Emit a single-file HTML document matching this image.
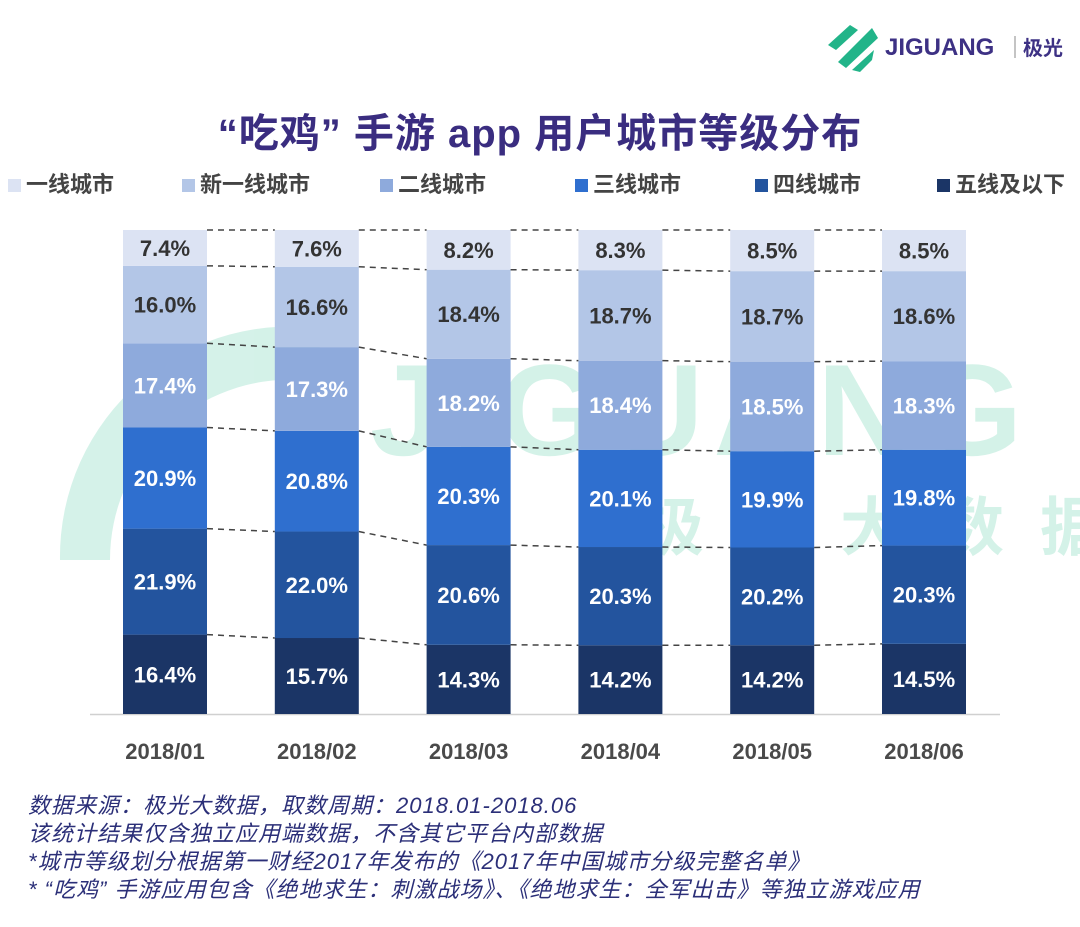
<!DOCTYPE html>
<html><head><meta charset="utf-8"><style>
body{margin:0;width:1080px;height:927px;background:#fff;overflow:hidden;font-family:"Liberation Sans","Noto Sans CJK SC",sans-serif;}
.t{position:absolute;white-space:nowrap}
</style></head><body>
<div style="position:relative;width:1080px;height:927px">
<svg width="1080" height="927" style="position:absolute;left:0;top:0" id="svg">
  <g opacity="0.2">
    <path d="M60 560 A230 230 0 0 1 330 330 L300 380 A180 180 0 0 0 110 560 Z" fill="#2fbf8f"/>
    <text x="370" y="455" font-size="130" font-weight="bold" fill="#2fbf8f" font-family="Liberation Sans" letter-spacing="10">JIGUANG</text>
    <text x="640" y="550" font-size="64" font-weight="bold" fill="#2fbf8f" font-family="Noto Sans CJK SC" letter-spacing="36">极光大数据</text>
  </g>
  <line x1="90" y1="714.5" x2="1000" y2="714.5" stroke="#d0d0d0" stroke-width="1.5"/>
  <g id="bars"></g><g id="links"></g>
  <g>
    <path d="M828 45 L850 25 L858 30 L836 50 Z M838 62 L872 28 L878 38 L846 68 Z M852 70 L874 50 L872 60 L860 72 Z" fill="#22b489"/>
    <text x="885" y="55" font-size="24" font-weight="bold" fill="#3d3184" font-family="Liberation Sans">JIGUANG</text>
    <line x1="1015" y1="36" x2="1015" y2="58" stroke="#888"/>
    <text x="1023" y="55" font-size="20" font-weight="bold" fill="#3d3184" font-family="Noto Sans CJK SC">极光</text>
  </g>
</svg>
<div class="t" style="left:0;width:1080px;text-align:center;top:101px;font-size:40px;font-weight:bold;color:#3a2d80;letter-spacing:1px">“吃鸡” 手游 app 用户城市等级分布</div>
<div id="legend"></div>
<div class="t" style="left:28px;top:792px;font-size:22px;letter-spacing:1px;font-style:italic;color:#2b2f78;line-height:28px">数据来源：极光大数据，取数周期：2018.01-2018.06<br>该统计结果仅含独立应用端数据，不含其它平台内部数据<br>*城市等级划分根据第一财经2017年发布的《2017年中国城市分级完整名单》<br>* “吃鸡” 手游应用包含《绝地求生：刺激战场》、《绝地求生：全军出击》等独立游戏应用</div>
</div>
<script>
const categories=["2018/01","2018/02","2018/03","2018/04","2018/05","2018/06"];
const seriesNames=["一线城市","新一线城市","二线城市","三线城市","四线城市","五线及以下"];
const tier1=[7.4,7.6,8.2,8.3,8.5,8.5];
const newTier1=[16.0,16.6,18.4,18.7,18.7,18.6];
const tier2=[17.4,17.3,18.2,18.4,18.5,18.3];
const tier3=[20.9,20.8,20.3,20.1,19.9,19.8];
const tier4=[21.9,22.0,20.6,20.3,20.2,20.3];
const tier5=[16.4,15.7,14.3,14.2,14.2,14.5];
const series=[tier1,newTier1,tier2,tier3,tier4,tier5];
const colors=["#dce3f3","#b3c6e7","#8eaadc","#2f6fcf","#23549e","#1b3566"];
const textColors=["#333","#333","#fff","#fff","#fff","#fff"];
const NS="http://www.w3.org/2000/svg";
const base=714, pxPer=4.84, bw=84;
const xc=i=>165+i*151.8;
const y=v=>base-v*pxPer;
const bars=document.getElementById('bars'),links=document.getElementById('links');
const bounds=[];
categories.forEach((c,i)=>{
  let cum=0; const b=[];
  for(let s=5;s>=0;s--){
    const v=series[s][i];
    const y0=y(cum), y1=y(cum+v);
    const r=document.createElementNS(NS,'rect');
    
    
    r.setAttribute('x',xc(i)-bw/2);r.setAttribute('y',y1);r.setAttribute('width',bw);r.setAttribute('height',y0-y1);r.setAttribute('fill',colors[s]);
    bars.appendChild(r);
    const t=document.createElementNS(NS,'text');
    
    
    t.setAttribute('x',xc(i));t.setAttribute('y',(y0+y1)/2+8);t.setAttribute('text-anchor','middle');t.setAttribute('font-size','22');t.setAttribute('font-weight','bold');t.setAttribute('fill',textColors[s]);
    t.textContent=v.toFixed(1)+'%';bars.appendChild(t);
    cum+=v; b.push(y1);
  }
  bounds.push(b);
  const xl=document.createElementNS(NS,'text');
  
  
  xl.setAttribute('x',xc(i));xl.setAttribute('y',759);xl.setAttribute('text-anchor','middle');xl.setAttribute('font-size','22');xl.setAttribute('font-weight','bold');xl.setAttribute('fill','#4a4a4a');
  xl.textContent=c;bars.appendChild(xl);
});
for(let i=0;i<5;i++){for(let k=0;k<6;k++){
  const l=document.createElementNS(NS,'line');
  
  
  l.setAttribute('x1',xc(i)+bw/2);l.setAttribute('x2',xc(i+1)-bw/2);l.setAttribute('y1',bounds[i][k]);l.setAttribute('y2',bounds[i+1][k]);
  l.setAttribute('stroke','#444');l.setAttribute('stroke-width','1.5');l.setAttribute('stroke-dasharray','6,5');
  links.appendChild(l);
}}
const lx=[8,182,380,575,755,937];
const lg=document.getElementById('legend');
seriesNames.forEach((n,i)=>{
  const d=document.createElement('div');
  
  
  d.className='t';d.style.cssText='left:'+lx[i]+'px;top:167px;font-size:22px;font-weight:bold;color:#444';
  d.innerHTML='<span style="display:inline-block;width:13px;height:13px;background:'+colors[i]+';margin-right:5px"></span>'+n;
  lg.appendChild(d);
});
</script>
</body></html>
